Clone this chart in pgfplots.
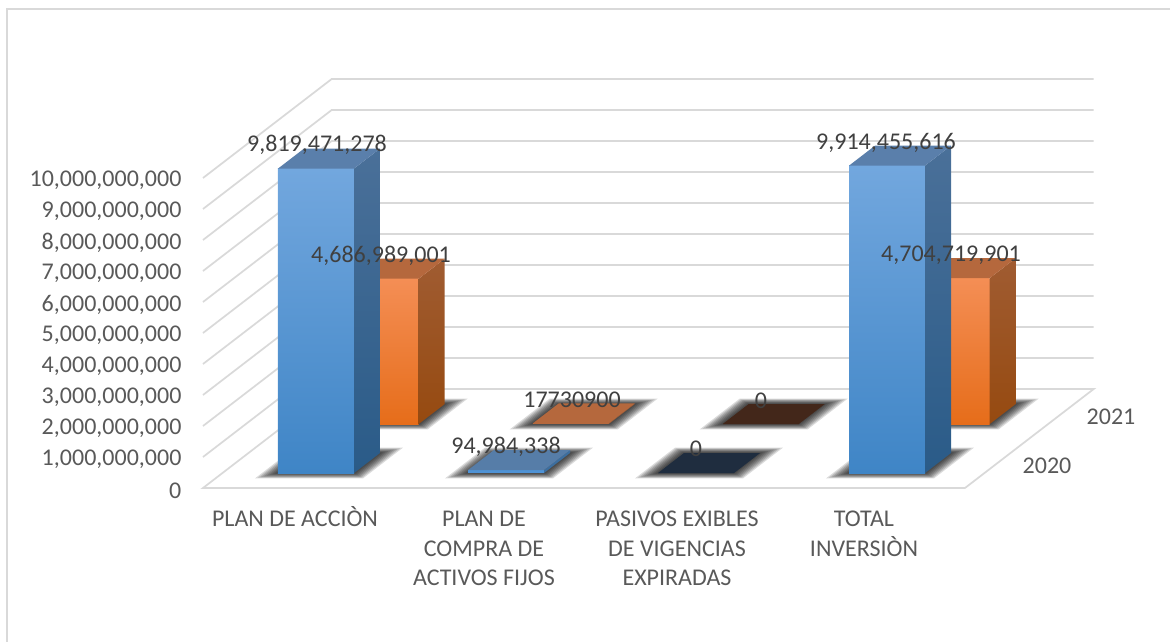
\documentclass[border=0pt]{standalone}
\usepackage{pgfplots}
\usepackage{fontspec}
\setmainfont{Carlito}
\pgfplotsset{compat=1.18}
\definecolor{gridc}{HTML}{D9D9D9}
\definecolor{tickc}{HTML}{595959}
\definecolor{labc}{HTML}{404040}
% x: pixels along the floor; v: value; d: depth (pixels of rise on the floor)
\newcommand\polyaux[2]{\addplot[forget plot,mark=none,draw=none,#1] table[row sep=\\, x expr=\thisrow{x}+1.3*\thisrow{d}, y expr=\thisrow{v}+\thisrow{d}*32258065]{x v d\\ #2};}
\newcommand\poly[2]{\begingroup\let\\\relax\xdef\polyrows{#2}\endgroup
  \expandafter\polyauxb\expandafter{\polyrows}{#1}}
\newcommand\polyauxb[2]{\polyaux{#2}{#1}}
\newcommand\shlayer[3]{%
  \pgfmathsetmacro\xa{#1-#3}\pgfmathsetmacro\xb{#1+76+#3}%
  \pgfmathsetmacro\da{#2-#3/3}\pgfmathsetmacro\db{#2+20+#3/3}%
  \poly{fill=black,fill opacity=0.14}{\xa\space 0 \da\\ \xb\space 0 \da\\ \xb\space 0 \db\\ \xa\space 0 \db\\}}
\newcommand\shadowbox[2]{\shlayer{#1}{#2}{16}\shlayer{#1}{#2}{14}\shlayer{#1}{#2}{12}\shlayer{#1}{#2}{10}\shlayer{#1}{#2}{8}\shlayer{#1}{#2}{6}\shlayer{#1}{#2}{4}\shlayer{#1}{#2}{2}}
% #1 x0, #2 value, #3 d0, #4 #5 front top/bottom, #6 #7 side top/bottom, #8 top face
\newcommand\barbox[8]{%
  \pgfmathsetmacro\xb{#1+76}\pgfmathsetmacro\db{#3+20}%
  \poly{top color=#4,bottom color=#5}{#1 0 #3\\ \xb\space 0 #3\\ \xb\space #2 #3\\ #1 #2 #3\\}
  \poly{top color=#6,bottom color=#7}{\xb\space 0 #3\\ \xb\space 0 \db\\ \xb\space #2 \db\\ \xb\space #2 #3\\}
  \poly{fill=#8}{#1 #2 #3\\ \xb\space #2 #3\\ \xb\space #2 \db\\ #1 #2 \db\\}}
% flat bars: #1 x0, #2 value, #3 d0, #4 front, #5 side, #6 top
\newcommand\flatbox[6]{%
  \pgfmathsetmacro\xb{#1+76}\pgfmathsetmacro\db{#3+20}%
  \poly{fill=#4}{#1 0 #3\\ \xb\space 0 #3\\ \xb\space #2 #3\\ #1 #2 #3\\}
  \poly{fill=#5}{\xb\space 0 #3\\ \xb\space 0 \db\\ \xb\space #2 \db\\ \xb\space #2 #3\\}
  \poly{fill=#6}{#1 #2 #3\\ \xb\space #2 #3\\ \xb\space #2 \db\\ #1 #2 \db\\}}
\definecolor{bft}{HTML}{72A7DE}\definecolor{bfb}{HTML}{3F85C6}\definecolor{bst}{HTML}{4A7099}\definecolor{bsb}{HTML}{2A5B88}\definecolor{btp}{HTML}{5A7FAB}
\definecolor{oft}{HTML}{F48E55}\definecolor{ofb}{HTML}{E66D1A}\definecolor{ost}{HTML}{A05C32}\definecolor{osb}{HTML}{964A10}\definecolor{otp}{HTML}{B5683D}
\definecolor{navy}{HTML}{1F2D3F}\definecolor{brownd}{HTML}{43271A}\definecolor{bfl}{HTML}{4F93D6}\definecolor{bsl}{HTML}{3C6E9F}\definecolor{btl}{HTML}{567DA8}
\newcommand\fl{\rule{0pt}{17pt}}
\begin{document}
\begin{tikzpicture}
\begin{axis}[
  scale only axis, width=571.5pt, height=232.5pt,
  xmin=0, xmax=762, ymin=0, ymax=1e10, clip=false,
  axis line style={draw=none}, tick style={draw=none},
  ytick={0,1e9,2e9,3e9,4e9,5e9,6e9,7e9,8e9,9e9,1e10},
  scaled y ticks=false,
  yticklabel style={/pgf/number format/fixed,/pgf/number format/precision=0,/pgf/number format/1000 sep={,},/pgf/number format/assume math mode=true,font=\fontsize{18}{22}\selectfont,text=tickc,xshift=-12.7pt,yshift=-2pt},
  xtick={92,281,474,661},
  xticklabels={{\fl PLAN DE ACCIÒN},{\fl PLAN DE\\COMPRA DE\\ACTIVOS FIJOS},{\fl PASIVOS EXIBLES\\DE VIGENCIAS\\EXPIRADAS},{\fl TOTAL\\INVERSIÒN}},
  xticklabel style={font=\fontsize{18}{22}\selectfont,text=tickc,align=center,anchor=north,yshift=-8.6pt},
]
% walls and floor
\pgfplotsinvokeforeach{1,2,3,4,5,6,7,8,9,10}{
  \addplot[forget plot,mark=none,gridc,line width=1.3pt] table[row sep=\\, x expr=\thisrow{x}+1.3*\thisrow{d}, y expr=\thisrow{v}+\thisrow{d}*32258065]{x v d\\ 0 #1e9 0\\ 0 #1e9 99\\ 762 #1e9 99\\};
}
\addplot[forget plot,mark=none,gridc,line width=1.3pt] table[row sep=\\, x expr=\thisrow{x}+1.3*\thisrow{d}, y expr=\thisrow{v}+\thisrow{d}*32258065]{x v d\\ 762 0 0\\ 0 0 0\\ 0 0 99\\ 762 0 99\\ 762 0 0\\};
% 2021 row
\shadowbox{56.5}{64}\shadowbox{246.5}{64}\shadowbox{436.5}{64}\shadowbox{627.5}{64}
\barbox{56.5}{4686989001}{64}{oft}{ofb}{ost}{osb}{otp}
\flatbox{246.5}{17730900}{64}{otp}{ost}{otp}
\flatbox{436.5}{0}{64}{brownd}{brownd}{brownd}
\barbox{627.5}{4704719901}{64}{oft}{ofb}{ost}{osb}{otp}
% 2020 row
\shadowbox{55.5}{15}\shadowbox{245.5}{15}\shadowbox{435.5}{15}\shadowbox{626.5}{15}
\barbox{55.5}{9819471278}{15}{bft}{bfb}{bst}{bsb}{btp}
\flatbox{245.5}{94984338}{15}{bfl}{bsl}{btl}
\flatbox{435.5}{0}{15}{navy}{navy}{navy}
\barbox{626.5}{9914455616}{15}{bft}{bfb}{bst}{bsb}{btp}
\end{axis}
\begin{scope}[x=0.75pt,y=-0.75pt,shift={(-203,-488)},font=\fontsize{18}{22}\selectfont]
\path[use as bounding box] (0,0) rectangle (1170,642);
\draw[gridc,line width=1pt] (7,642) -- (7,9) -- (1170,9);
\foreach \xx/\yy/\lab in {317/145/{9,819,471,278},381/256/{4,686,989,001},506/447/{94,984,338},572/400/{17730900},696/449/{0},761/401/{0},886/143/{9,914,455,616},951/255/{4,704,719,901}}
  \node[text=labc,inner sep=0pt] at (\xx,\yy) {\lab};
\node[text=tickc,inner sep=0pt] at (1047,466) {2020};
\node[text=tickc,inner sep=0pt] at (1111,417) {2021};
\end{scope}
\end{tikzpicture}
\end{document}
